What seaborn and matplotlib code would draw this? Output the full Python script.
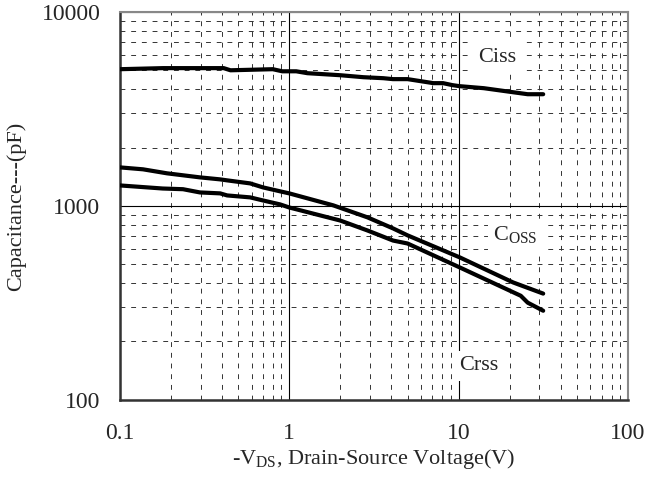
import numpy as np
import pandas as pd
import matplotlib
matplotlib.use("Agg")
import matplotlib.pyplot as plt
import matplotlib.ticker as mticker
import seaborn as sns

# values (V in volts, C in pF)
ciss_v = [0.1, 0.18, 0.41, 0.45, 0.8, 0.91, 1.1, 1.28, 2.0, 2.74, 3.6, 4.1, 5.0, 7.1, 8.1, 9.2, 10.1, 14.1, 21, 25.6, 31.6]
ciss_c = [5075, 5140, 5140, 5010, 5075, 4950, 4950, 4840, 4725, 4615, 4560, 4510, 4510, 4300, 4300, 4200, 4150, 4050, 3860, 3770, 3770]

coss_v = [0.1, 0.137, 0.19, 0.297, 0.391, 0.43, 0.588, 0.701, 0.885, 1.0, 1.82, 2.9, 4.1, 5.0, 10.2, 21, 31.6]
coss_c = [1581, 1545, 1473, 1404, 1371, 1355, 1307, 1246, 1189, 1161, 1007, 873, 766, 705, 542, 403, 353]

crss_v = [0.1, 0.179, 0.236, 0.297, 0.391, 0.43, 0.588, 0.701, 0.885, 1.0, 2.0, 2.9, 4.1, 5.0, 10.2, 23.3, 25.6, 31.6]
crss_c = [1276, 1230, 1220, 1174, 1161, 1133, 1107, 1067, 1018, 982, 841, 747, 663, 640, 481, 344, 317, 288]

x_ticks = [0.1, 1, 10, 100]
x_tick_labels = ["0.1", "1", "10", "100"]
y_ticks = [100, 1000, 10000]
y_tick_labels = ["100", "1000", "10000"]

sns.set_style("white")
plt.rcParams["font.family"] = ["Liberation Serif", "DejaVu Serif"]
plt.rcParams["mathtext.fontset"] = "custom"
plt.rcParams["mathtext.rm"] = "Liberation Serif"

fig = plt.figure(figsize=(6.48, 4.84), dpi=100)
ax = fig.add_axes([0.185, 0.174, 0.784, 0.801])

for v, c in [(ciss_v, ciss_c), (coss_v, coss_c), (crss_v, crss_c)]:
    df = pd.DataFrame({"v": v, "c": c})
    sns.lineplot(data=df, x="v", y="c", color="black", linewidth=3.0, ax=ax, zorder=3)

ax.set_xscale("log")
ax.set_yscale("log")
ax.set_xlim(0.1, 100)
ax.set_ylim(100, 10000)

ax.set_xticks(x_ticks)
ax.set_xticklabels(x_tick_labels)
ax.set_yticks(y_ticks)
ax.set_yticklabels(y_tick_labels)
ax.xaxis.set_minor_locator(mticker.LogLocator(base=10, subs=np.arange(2, 10)))
ax.yaxis.set_minor_locator(mticker.LogLocator(base=10, subs=np.arange(2, 10)))
ax.xaxis.set_minor_formatter(mticker.NullFormatter())
ax.yaxis.set_minor_formatter(mticker.NullFormatter())
ax.tick_params(which="both", length=0, labelsize=17)
ax.tick_params(axis="x", pad=17)
ax.tick_params(axis="y", pad=14)

ax.grid(which="major", color="black", linestyle="-", linewidth=0.8)
ax.grid(which="minor", color="#333333", linestyle=(0, (5, 6)), linewidth=0.7)

for side in ["left", "bottom"]:
    ax.spines[side].set_color("#333333")
    ax.spines[side].set_linewidth(1.8)
for side in ["right", "top"]:
    ax.spines[side].set_color("#888888")
    ax.spines[side].set_linewidth(1.5)

ax.set_xlabel(r"-V$_{\mathrm{DS}}$, Drain-Source Voltage(V)", fontsize=16)
ax.set_ylabel("Capacitance---(pF)", fontsize=16)
ax.xaxis.label.set_va("center")
ax.yaxis.label.set_va("center")
ax.xaxis.set_label_coords(0.5, -0.152)
ax.yaxis.set_label_coords(-0.203, 0.5)

box = dict(facecolor="white", edgecolor="none", pad=4)
ax.text(17.0, 5850, "Ciss", fontsize=16, ha="center", va="center", bbox=box, zorder=4)
ax.text(21.7, 705, r"C$_{\mathrm{OSS}}$", fontsize=16, ha="center", va="center", bbox=box, zorder=4)
ax.text(13.1, 150, "Crss", fontsize=16, ha="center", va="center", bbox=box, zorder=4)

fig.savefig("out.png", dpi=100)
